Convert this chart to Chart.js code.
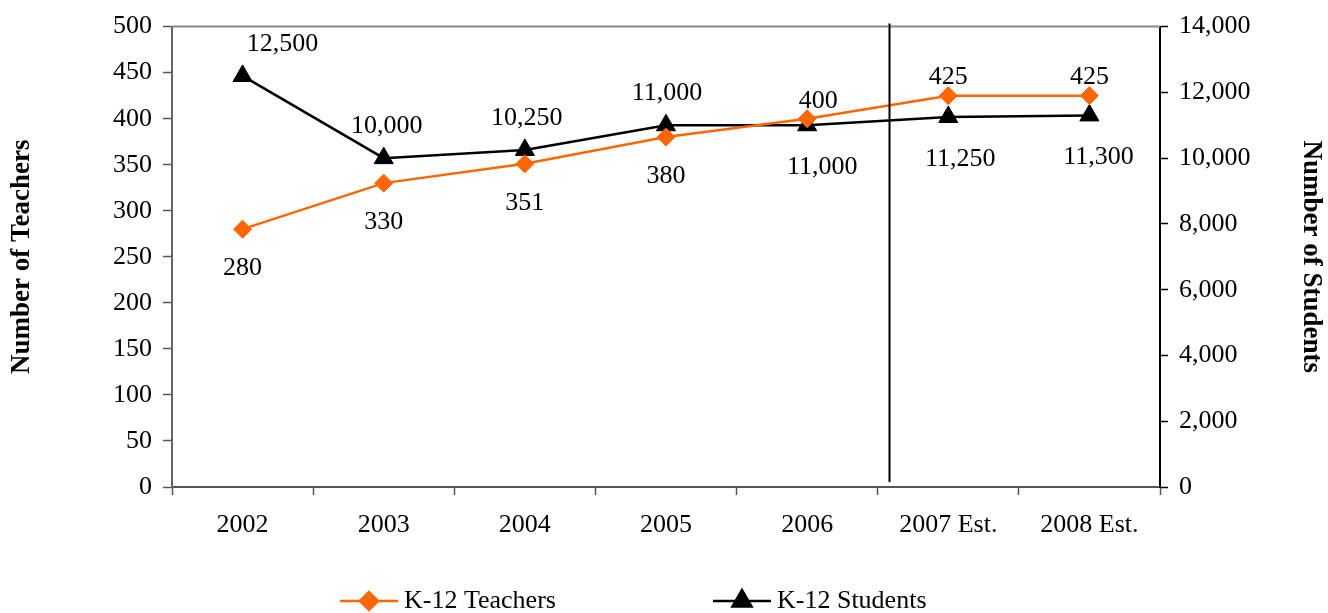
<!DOCTYPE html>
<html>
<head>
<meta charset="utf-8">
<script src="https://cdn.jsdelivr.net/npm/chart.js@4/dist/chart.umd.min.js"></script>
<style>
    html, body { margin: 0; padding: 0; background: #fff; }
    #wrap { width: 1328px; height: 613px; }
</style>
</head>
<body>
<div id="wrap"><canvas id="chart" width="1328" height="613"></canvas></div>
<script>
// data
var years = ['2002', '2003', '2004', '2005', '2006', '2007 Est.', '2008 Est.'];
var teachers = [280, 330, 351, 380, 400, 425, 425];
var students = [12500, 10000, 10250, 11000, 11000, 11250, 11300];

// where the value labels sit (above / below the point)
var teacherLabelPos = ['below', 'below', 'below', 'below', 'above', 'above', 'above'];
var studentLabelPos = ['above', 'above', 'above', 'above', 'below', 'below', 'below'];
var teacherLabelShift = [0, 0, 0, 0, 11, 0, 0];
var studentLabelShift = [40, 3, 2, 1, 15, 12, 9];

// estimate divider, in category units
var dividerAt = 4.58;

var FONT = '"Liberation Serif", "Times New Roman", serif';
var ORANGE = '#FF6600';

var valueLabels = {
    id: 'valueLabels',
    afterDatasetsDraw: function(chart) {
        var ctx = chart.ctx;
        var x = chart.scales.x;
        var area = chart.chartArea;
        ctx.save();

        // top border of plot area
        ctx.strokeStyle = '#888';
        ctx.lineWidth = 2;
        ctx.beginPath();
        ctx.moveTo(area.left, area.top);
        ctx.lineTo(area.right, area.top);
        ctx.stroke();

        // divider between actual and estimated years
        var dx = Math.round(x.getPixelForValue(dividerAt)) + 0.5;
        ctx.strokeStyle = '#000';
        ctx.lineWidth = 2;
        ctx.beginPath();
        ctx.moveTo(dx, area.top - 3);
        ctx.lineTo(dx, area.bottom - 5);
        ctx.stroke();

        ctx.font = '26px ' + FONT;
        ctx.fillStyle = '#000';
        ctx.textAlign = 'center';
        ctx.textBaseline = 'middle';

        var m0 = chart.getDatasetMeta(0);
        m0.data.forEach(function(pt, i) {
            var y = teacherLabelPos[i] == 'below' ? pt.y + 39 : pt.y - 18;
            ctx.fillText(String(teachers[i]), pt.x + teacherLabelShift[i], y);
        });
        var m1 = chart.getDatasetMeta(1);
        m1.data.forEach(function(pt, i) {
            var y = studentLabelPos[i] == 'below' ? pt.y + 42 : pt.y - 32;
            ctx.fillText(students[i].toLocaleString('en-US'), pt.x + studentLabelShift[i], y);
        });

        // legend
        var items = [
            {text: 'K-12 Teachers', color: ORANGE, style: 'rectRot', radius: 9, x: 340},
            {text: 'K-12 Students', color: '#000', style: 'triangle', radius: 11, x: 713}
        ];
        var ly = 601;
        ctx.textAlign = 'left';
        items.forEach(function(it) {
            ctx.strokeStyle = it.color;
            ctx.lineWidth = 2.5;
            ctx.beginPath();
            ctx.moveTo(it.x, ly);
            ctx.lineTo(it.x + 58, ly);
            ctx.stroke();
            ctx.fillStyle = it.color;
            Chart.helpers.drawPoint(ctx, {pointStyle: it.style, radius: it.radius, borderWidth: 1}, it.x + 29, ly);
            ctx.fillStyle = '#000';
            ctx.fillText(it.text, it.x + 64, ly);
        });
        ctx.restore();
    }
};

var ctx = document.getElementById('chart');
var myChart = new Chart(ctx, {
    type: 'line',
    data: {
        labels: years,
        datasets: [{
            label: 'K-12 Teachers',
            data: teachers,
            yAxisID: 'y',
            borderColor: ORANGE,
            backgroundColor: ORANGE,
            borderWidth: 2.5,
            pointStyle: 'rectRot',
            pointRadius: 9,
            pointBorderWidth: 1,
            pointBorderColor: ORANGE,
            pointBackgroundColor: ORANGE,
            tension: 0
        }, {
            label: 'K-12 Students',
            data: students,
            yAxisID: 'y2',
            borderColor: '#000',
            backgroundColor: '#000',
            borderWidth: 2.5,
            pointStyle: 'triangle',
            pointRadius: 11,
            pointBorderWidth: 1,
            pointBorderColor: '#000',
            pointBackgroundColor: '#000',
            tension: 0
        }]
    },
    options: {
        responsive: false,
        animation: false,
        layout: { padding: { top: 25, left: 0, right: 0, bottom: 0 } },
        plugins: {
            legend: { display: false },
            tooltip: { enabled: false }
        },
        scales: {
            x: {
                offset: true,
                grid: { offset: true, drawOnChartArea: false, tickLength: 8, tickColor: '#555', tickWidth: 1.5 },
                border: { color: '#555', width: 2 },
                ticks: { color: '#000', padding: 15, maxRotation: 0, font: { family: FONT, size: 26 } },
                afterFit: function(s) { s.height = 126; }
            },
            y: {
                position: 'left',
                min: 0,
                max: 500,
                ticks: { stepSize: 50, color: '#000', padding: 11, font: { family: FONT, size: 26 } },
                grid: { drawOnChartArea: false, tickLength: 9, tickColor: '#555', tickWidth: 1.5 },
                border: { color: '#666', width: 2 },
                title: {
                    display: true,
                    text: 'Number of Teachers',
                    color: '#000',
                    padding: { top: 6, bottom: 0 },
                    font: { family: FONT, size: 27, weight: 'bold' }
                },
                afterFit: function(s) { s.width = 172; }
            },
            y2: {
                position: 'right',
                min: 0,
                max: 14000,
                ticks: {
                    stepSize: 2000,
                    color: '#000',
                    padding: 11,
                    font: { family: FONT, size: 26 },
                    callback: function(v) { return v.toLocaleString('en-US'); }
                },
                grid: { drawOnChartArea: false, tickLength: 8, tickColor: '#000', tickWidth: 1.5 },
                border: { color: '#000', width: 2 },
                title: {
                    display: true,
                    text: 'Number of Students',
                    color: '#000',
                    padding: { top: 1, bottom: 0 },
                    font: { family: FONT, size: 27, weight: 'bold' }
                },
                afterFit: function(s) { s.width = 168; }
            }
        }
    },
    plugins: [valueLabels]
});
</script>
</body>
</html>
